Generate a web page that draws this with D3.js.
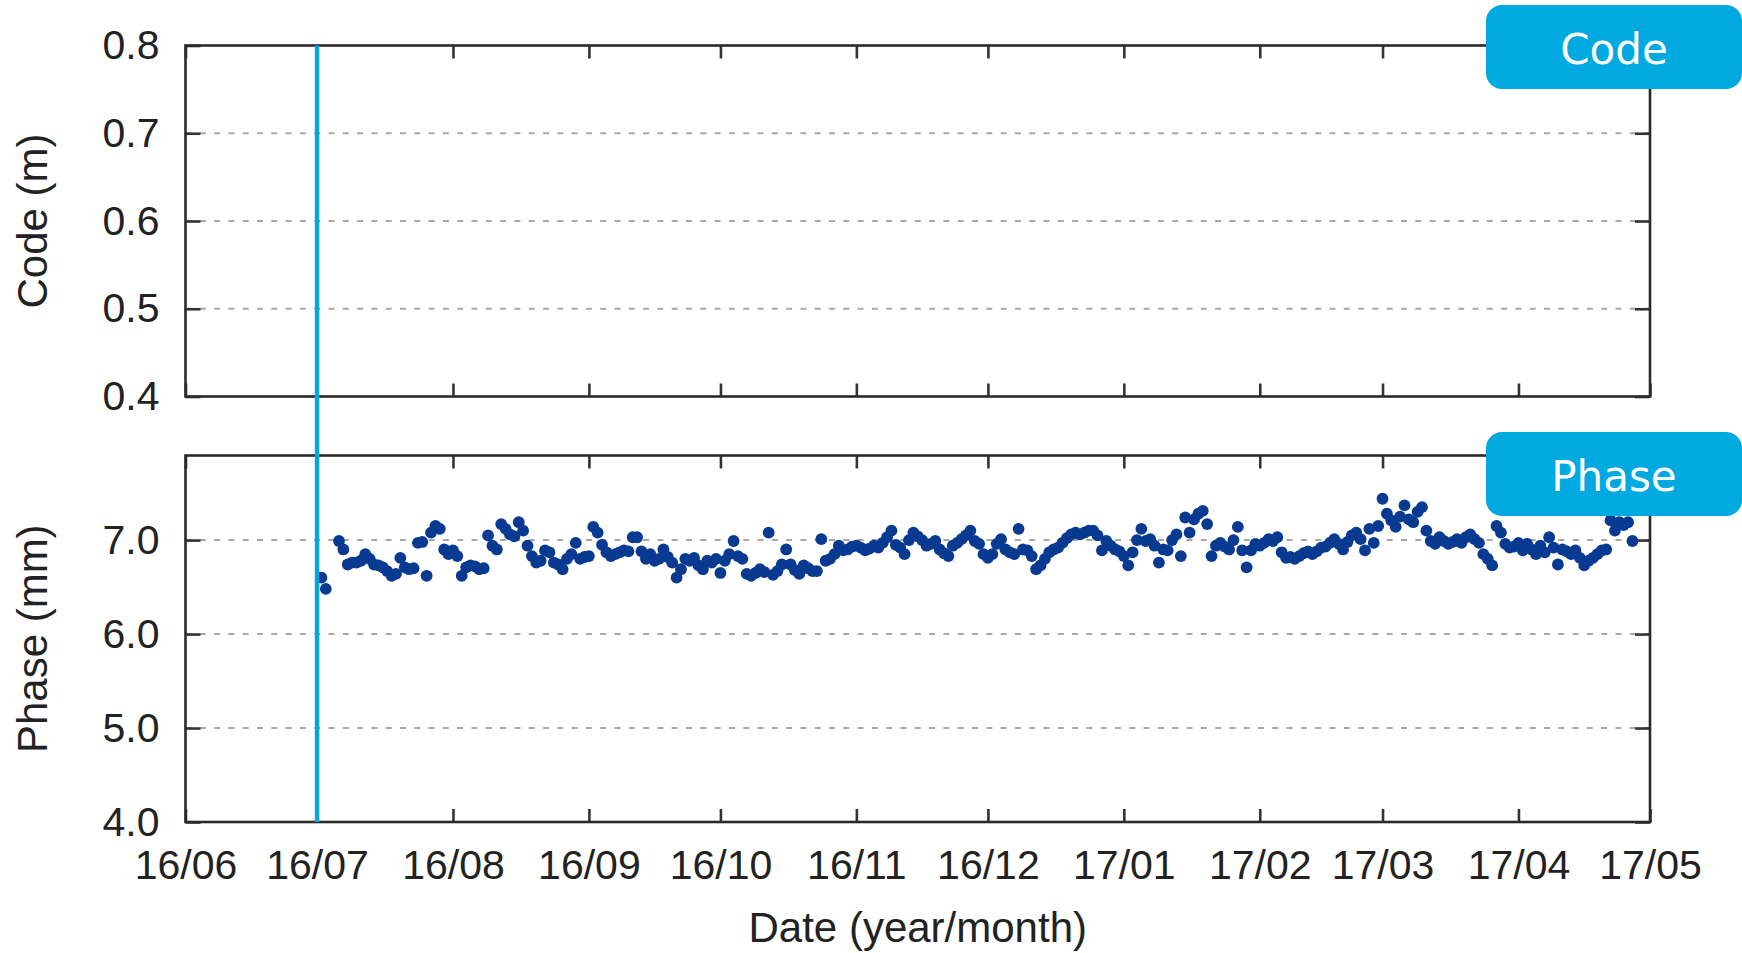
<!DOCTYPE html>
<html>
<head>
<meta charset="utf-8">
<script src="https://cdn.jsdelivr.net/npm/d3@7"></script>
<style>
  html, body { margin: 0; padding: 0; background: #fff; }
  svg { display: block; }
  .axis text { font-family: "Liberation Sans", Arial, sans-serif; font-size: 41px; fill: #222; }
  .axis path { display: none; }
  .axis line { stroke: #333; stroke-width: 2.6; }
</style>
</head>
<body>
<svg id="chart" width="1742" height="953"></svg>
<script>
// Daily phase residual (mm), one value per day starting 2016-07-01; null = no solution that day
const startDate = "2016-07-01";
const phaseValues = [
  null, 6.60, 6.48, null, null, 6.99, 6.90, 6.74, 6.76, 6.76,
  6.78, 6.85, 6.80, 6.74, 6.73, 6.71, 6.67, 6.62, 6.64, 6.81,
  6.71, 6.69, 6.70, 6.97, 6.98, 6.62, 7.08, 7.15, 7.12, 6.90,
  6.85, 6.89, 6.83, 6.62, 6.71, 6.73, 6.72, 6.69, 6.70, 7.05,
  6.94, 6.90, 7.17, 7.12, 7.06, 7.04, 7.19, 7.10, 6.94, 6.83,
  6.76, 6.78, 6.89, 6.87, 6.76, 6.74, 6.69, 6.80, 6.85, 6.97,
  6.80, 6.82, 6.83, 7.14, 7.08, 6.95, 6.87, 6.83, 6.85, 6.87,
  6.89, 6.88, 7.03, 7.03, 6.88, 6.80, 6.85, 6.78, 6.80, 6.90,
  6.82, 6.76, 6.60, 6.69, 6.80, 6.78, 6.81, 6.73, 6.69, 6.78,
  6.76, 6.80, 6.65, 6.78, 6.85, 6.99, 6.83, 6.80, 6.64, 6.62,
  6.65, 6.69, 6.66, 7.08, 6.63, 6.67, 6.74, 6.90, 6.74, 6.68,
  6.64, 6.73, 6.70, 6.67, 6.67, 7.01, 6.78, 6.80, 6.85, 6.94,
  6.89, 6.90, 6.93, 6.94, 6.92, 6.89, 6.91, 6.94, 6.92, 6.97,
  7.03, 7.10, 6.95, 6.92, 6.85, 7.00, 7.08, 7.04, 7.00, 6.94,
  6.96, 6.99, 6.90, 6.86, 6.83, 6.94, 6.97, 7.01, 7.05, 7.10,
  6.99, 6.96, 6.85, 6.81, 6.85, 6.96, 7.01, 6.90, 6.87, 6.85,
  7.12, 6.90, 6.89, 6.83, 6.69, 6.73, 6.80, 6.87, 6.90, 6.92,
  6.97, 7.02, 7.06, 7.08, 7.06, 7.08, 7.10, 7.10, 7.05, 6.89,
  6.99, 6.94, 6.90, 6.88, 6.83, 6.73, 6.87, 7.00, 7.12, 6.99,
  7.01, 6.94, 6.76, 6.90, 6.89, 7.00, 7.06, 6.83, 7.24, 7.08,
  7.22, 7.28, 7.31, 7.17, 6.83, 6.94, 6.97, 6.93, 6.90, 7.00,
  7.14, 6.89, 6.71, 6.89, 6.96, 6.94, 6.97, 7.01, 6.99, 7.03,
  6.87, 6.81, 6.82, 6.80, 6.83, 6.86, 6.88, 6.85, 6.88, 6.92,
  6.93, 6.97, 7.01, 6.96, 6.90, 6.98, 7.05, 7.08, 7.01, 6.89,
  7.12, 6.97, 7.15, 7.44, 7.28, 7.21, 7.14, 7.25, 7.37, 7.22,
  7.19, 7.30, 7.35, 7.10, 6.99, 6.96, 7.03, 6.99, 6.96, 6.98,
  7.01, 6.97, 7.03, 7.06, 7.01, 6.97, 6.85, 6.80, 6.73, 7.15,
  7.08, 6.96, 6.92, 6.93, 6.97, 6.89, 6.96, 6.90, 6.85, 6.94,
  6.87, 7.03, 6.92, 6.74, 6.90, 6.88, 6.85, 6.89, 6.81, 6.73,
  6.78, 6.81, 6.85, 6.89, 6.90, 7.21, 7.10, 7.19, 7.16, 7.19,
  6.99
];
// Code residuals (m): no values in this period
const codeValues = [];

const xDomain = ["2016-06-01", "2017-05-01"];
const codeDomain = [0.4, 0.8];
const codeTicks = [0.4, 0.5, 0.6, 0.7, 0.8];
const codeGrid = [0.5, 0.6, 0.7];
const phaseDomain = [4.0, 7.9];
const phaseTicks = [4.0, 5.0, 6.0, 7.0];
const phaseGrid = [5.0, 6.0, 7.0];
const markerDate = "2016-07-01";
const panelLabels = ["Code", "Phase"];
const axisTitles = ["Code (m)", "Phase (mm)", "Date (year/month)"];

const parse = d3.utcParse("%Y-%m-%d");
const svg = d3.select("#chart");

const left = 185.5, right = 1650;
const topPanel = { y0: 45.5, y1: 396.5 };
const botPanel = { y0: 455.5, y1: 822 };

const x = d3.scaleUtc().domain(xDomain.map(parse)).range([left, right]);
const monthTicks = d3.utcMonth.range(parse(xDomain[0]), d3.utcDay.offset(parse(xDomain[1]), 1));
const yCode = d3.scaleLinear().domain(codeDomain).range([topPanel.y1, topPanel.y0]);
const yPhase = d3.scaleLinear().domain(phaseDomain).range([botPanel.y1, botPanel.y0]);

const t0 = parse(startDate);
const phaseData = phaseValues
  .map((v, i) => ({ date: d3.utcDay.offset(t0, i), value: v }))
  .filter(d => d.value !== null);

function drawPanel(y, panel, ticks, grid, fmt) {
  const g = svg.append("g");
  // dashed horizontal grid
  g.selectAll("line.grid").data(grid).join("line")
    .attr("x1", left).attr("x2", right)
    .attr("y1", d => y(d)).attr("y2", d => y(d))
    .attr("stroke", "#a8a8a8").attr("stroke-width", 2)
    .attr("stroke-dasharray", "6,8.3");

  // inward ticks on all four sides
  g.append("g").attr("class", "axis")
    .attr("transform", `translate(0,${panel.y1})`)
    .call(d3.axisBottom(x).tickValues(monthTicks).tickSize(-13).tickFormat(""));
  g.append("g").attr("class", "axis")
    .attr("transform", `translate(0,${panel.y0})`)
    .call(d3.axisTop(x).tickValues(monthTicks).tickSize(-13).tickFormat(""));
  g.append("g").attr("class", "axis")
    .attr("transform", `translate(${left},0)`)
    .call(d3.axisLeft(y).tickValues(ticks).tickSize(-15).tickPadding(26).tickFormat(fmt));
  g.append("g").attr("class", "axis")
    .attr("transform", `translate(${right},0)`)
    .call(d3.axisRight(y).tickValues(ticks).tickSize(-15).tickFormat(""));

  // frame
  g.append("rect")
    .attr("x", left).attr("y", panel.y0)
    .attr("width", right - left).attr("height", panel.y1 - panel.y0)
    .attr("fill", "none").attr("stroke", "#2a2a2a").attr("stroke-width", 2.6);
  return g;
}

const fmt1 = d3.format(".1f");
drawPanel(yCode, topPanel, codeTicks, codeGrid, fmt1);
drawPanel(yPhase, botPanel, phaseTicks, phaseGrid, fmt1);

// x tick labels under the lower panel
svg.append("g").attr("class", "axis")
  .attr("transform", `translate(0,${botPanel.y1})`)
  .call(d3.axisBottom(x).tickValues(monthTicks).tickSize(0).tickPadding(28)
    .tickFormat(d3.utcFormat("%y/%m")));

// phase points
svg.append("g").selectAll("circle").data(phaseData).join("circle")
  .attr("cx", d => x(d.date)).attr("cy", d => yPhase(d.value))
  .attr("r", 5.9).attr("fill", "#083a92");

// code points (none in this period)
svg.append("g").selectAll("circle").data(codeValues).join("circle")
  .attr("cx", (d, i) => x(d3.utcDay.offset(t0, i))).attr("cy", d => yCode(d))
  .attr("r", 5.9).attr("fill", "#083a92");

// vertical marker line spanning both panels
svg.append("line")
  .attr("x1", x(parse(markerDate))).attr("x2", x(parse(markerDate)))
  .attr("y1", topPanel.y0).attr("y2", botPanel.y1)
  .attr("stroke", "#0aa3dc").attr("stroke-width", 4.5);

// axis titles
const titleStyle = s => s.attr("font-family", "Liberation Sans, Arial, sans-serif")
  .attr("font-size", 42).attr("fill", "#222").attr("text-anchor", "middle");
svg.append("text").call(titleStyle)
  .attr("transform", `translate(47,${(topPanel.y0 + topPanel.y1) / 2}) rotate(-90)`)
  .text(axisTitles[0]);
svg.append("text").call(titleStyle)
  .attr("transform", `translate(47,${(botPanel.y0 + botPanel.y1) / 2}) rotate(-90)`)
  .text(axisTitles[1]);
svg.append("text").call(titleStyle)
  .attr("x", (left + right) / 2).attr("y", 942)
  .text(axisTitles[2]);

// panel name badges
const badges = [
  { text: panelLabels[0], y0: 5, y1: 89 },
  { text: panelLabels[1], y0: 432, y1: 516 }
];
const bg = svg.append("g").selectAll("g").data(badges).join("g");
bg.append("rect")
  .attr("x", 1486).attr("y", d => d.y0)
  .attr("width", 256).attr("height", d => d.y1 - d.y0)
  .attr("rx", 16).attr("ry", 16)
  .attr("fill", "#00a9e0");
bg.append("text")
  .attr("x", 1614).attr("y", d => (d.y0 + d.y1) / 2 + 17)
  .attr("text-anchor", "middle")
  .attr("font-family", "DejaVu Sans, Verdana, sans-serif")
  .attr("font-size", 42).attr("fill", "#fff")
  .text(d => d.text);
</script>
</body>
</html>
